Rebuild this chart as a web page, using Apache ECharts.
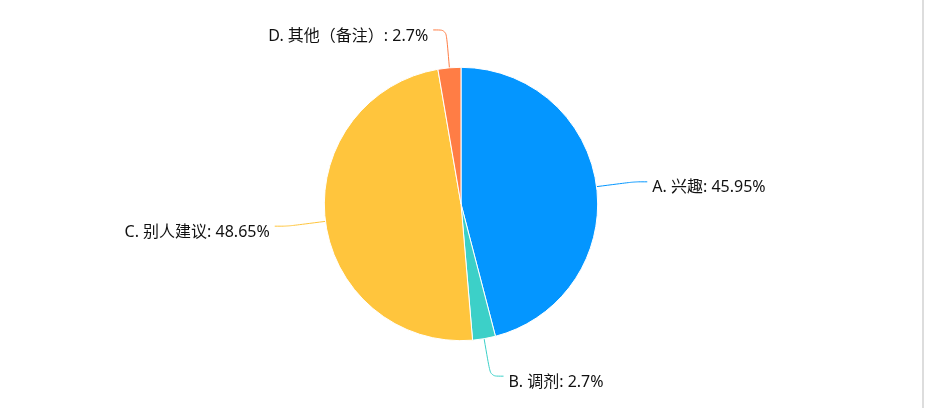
<!DOCTYPE html>
<html>
<head>
<meta charset="utf-8">
<script src="https://cdn.jsdelivr.net/npm/echarts@6/dist/echarts.min.js"></script>
<style>
  html, body { margin: 0; padding: 0; background: #fff; }
  #main { width: 922px; height: 408px; border-right: 2px solid #ddd; }
</style>
</head>
<body>
<div id="main"></div>
<script>
  // 选项名称与人数
  let names = ['A. 兴趣', 'B. 调剂', 'C. 别人建议', 'D. 其他（备注）'];
  let counts = [17, 1, 18, 1];
  let colors = ['#0496ff', '#3cd0c8', '#ffc53d', '#ff7d45'];

  let chart = echarts.init(document.getElementById('main'));

  let d = names.map(function (n, i) {
    return { name: n, value: counts[i] };
  });

  let option = {
    color: colors,
    tooltip: { trigger: 'item', formatter: '{b}: {d}%' },
    series: [{
      type: 'pie',
      center: ['50%', '50%'],
      radius: '67%',
      data: d,
      itemStyle: { borderColor: '#fff', borderWidth: 1 },
      label: {
        formatter: '{t|{b}: {d}%}',
        rich: {
          t: {
            fontSize: 16,
            color: '#111',
            padding: [12, 0, 0, 0],
            fontFamily: '"Noto Sans", "Noto Sans CJK SC", sans-serif'
          }
        }
      },
      labelLine: { length: 38, length2: 13, smooth: true }
    }]
  };
  chart.setOption(option);
</script>
</body>
</html>
